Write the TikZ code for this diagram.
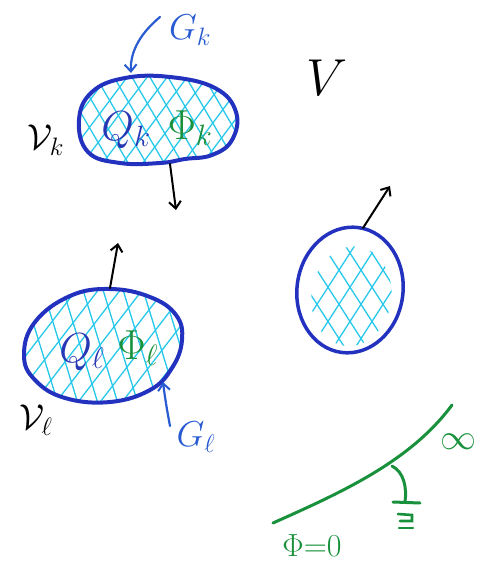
\RequirePackage{fix-cm}
\documentclass[tikz,border=0pt]{standalone}
\usetikzlibrary{arrows.meta}
\definecolor{outl}{RGB}{35,50,190}
\definecolor{hat}{RGB}{40,200,235}
\definecolor{lab}{RGB}{40,90,210}
\definecolor{qcol}{RGB}{40,55,180}
\definecolor{grn}{RGB}{25,145,60}
\tikzset{
  outline/.style={draw=outl,line width=4pt,line join=round},
  hatchline/.style={draw=hat,line width=1.3pt,line cap=round},
  blk/.style={draw=black,line width=2pt,line cap=round,-{Straight Barb[length=7pt,width=12pt,line width=2pt]}},
  bluearr/.style={draw=lab,line width=2.2pt,line cap=round,-{Straight Barb[length=7pt,width=12pt,line width=2pt]}},
  grline/.style={draw=grn,line width=3pt,line cap=round},
  big/.style={inner sep=0pt,font=\fontsize{42}{42}\selectfont},
  mid/.style={inner sep=0pt,font=\fontsize{36}{36}\selectfont},
}
\begin{document}
\begin{tikzpicture}[x=1pt,y=-1pt]
\useasboundingbox (0,0) rectangle (483,571);
% ---------- top blob ----------
\def\blobK{plot[smooth cycle,tension=0.7] coordinates {(79,120) (92,92) (125,78) (170,77) (215,88) (236,112) (232,140) (212,155) (185,159) (160,163) (120,163) (88,152)}}
\begin{scope}
  \clip \blobK;
  \foreach \i in {-40,-22,...,260} \draw[hatchline] (\i,60) -- ++(70,120);
  \foreach \i in {60,80,...,360} \draw[hatchline] (\i,60) -- ++(-90,120);
\end{scope}
\draw[outline] \blobK;
% ---------- lower blob ----------
\def\blobL{plot[smooth cycle,tension=0.7] coordinates {(24,355) (35,322) (70,296) (110,289) (150,297) (176,315) (182,340) (172,368) (150,390) (110,402) (65,398) (35,380)}}
\begin{scope}
  \clip \blobL;
  \foreach \i in {-60,-40,...,200} \draw[hatchline] (\i,280) -- ++(40,130);
  \foreach \i in {40,62,...,330} \draw[hatchline] (\i,280) -- ++(-100,130);
\end{scope}
\draw[outline] \blobL;
% ---------- right circle ----------
\begin{scope}
  \clip[rotate around={-8:(350,292)}] (352,296) ellipse [x radius=40,y radius=50];
  \foreach \i in {200,222,...,420} \draw[hatchline] (\i,225) -- ++(90,140);
  \foreach \i in {280,302,...,500} \draw[hatchline] (\i,225) -- ++(-90,140);
\end{scope}
\draw[outline,line width=3.5pt,rotate around={-8:(350,290)}] (350,290) ellipse [x radius=53,y radius=63];
% ---------- coordinates for arrows ----------
\coordinate (kbot) at (170,164);
\coordinate (kdown) at (176,210);
\coordinate (ktop) at (131,73);
\coordinate (gkstart) at (160,17);
\coordinate (ltop) at (110,288);
\coordinate (lup) at (118,243);
\coordinate (lright) at (163,382);
\coordinate (glstart) at (170,426);
\coordinate (ctop) at (363,228);
\coordinate (cup) at (390,186);
% ---------- arrows ----------
\draw[blk] (kbot) -- (kdown);
\draw[blk] (ltop) -- (lup);
\draw[blk] (ctop) -- (cup);
\draw[bluearr] (gkstart) .. controls (142,32) and (130,50) .. (ktop);
\draw[bluearr] (glstart) .. controls (167,410) and (165,398) .. (lright);
% ---------- labels ----------
\node[big,text=black,font=\fontsize{52}{52}\selectfont] (V) at (327,78) {$V$};
\node[mid,text=lab] (Gk) at (190,30) {$G_k$};
\node[mid,text=black] (Vk) at (46,140) {$\mathcal{V}_k$};
\node[big,text=qcol] (Qk) at (126,130) {$Q_k$};
\node[big,text=grn] (Phik) at (190,128) {$\Phi_k$};
\node[big,text=qcol] (Ql) at (82,352) {$Q_\ell$};
\node[big,text=grn] (Phil) at (138,348) {$\Phi_\ell$};
\node[mid,text=black] (Vl) at (36,420) {$\mathcal{V}_\ell$};
\node[mid,text=lab] (Gl) at (196,437) {$G_\ell$};
% ---------- infinity boundary ----------
\coordinate (cs) at (273,523);
\coordinate (ce) at (452,405);
\coordinate (cn) at (392,466);
\draw[grline] (cs) .. controls (340,493) and (410,462) .. (ce);
\coordinate (gnd) at (405,502);
\draw[grline] (cn) .. controls (404,472) and (407,488) .. (gnd);
\draw[grline] (393,502) -- (420,503);
\draw[grline,line width=2.6pt] (398,514) -- (412,515) -- (412,521) -- (400,521);
\draw[grline,line width=2.6pt] (399,528) -- (413,528);
\node[mid,text=grn] (inf) at (458,442) {$\infty$};
\node[mid,text=grn,font=\fontsize{32}{32}\selectfont] (phi0) at (312,546) {$\Phi{=}0$};
\end{tikzpicture}
\end{document}
